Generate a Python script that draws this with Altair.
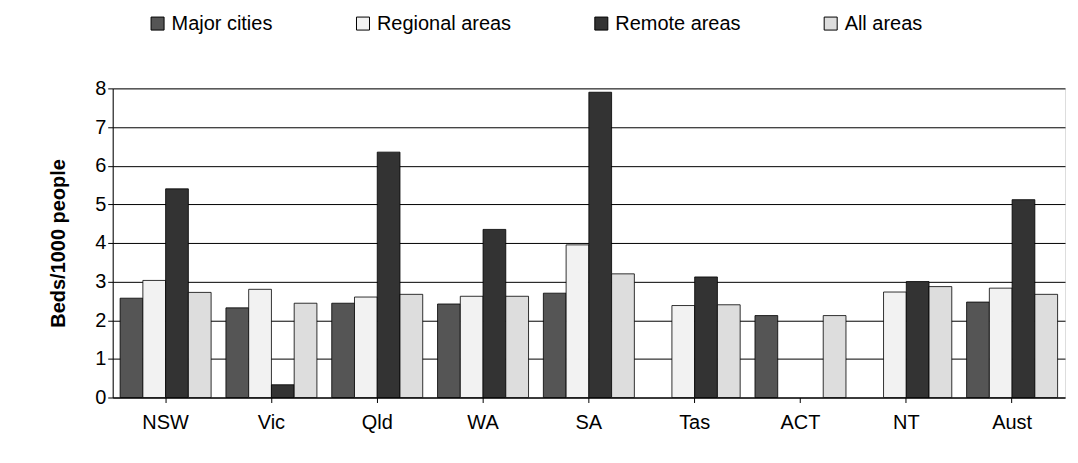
import altair as alt
import pandas as pd

STATES = ["NSW", "Vic", "Qld", "WA", "SA", "Tas", "ACT", "NT", "Aust"]
SERIES = ["Major cities", "Regional areas", "Remote areas", "All areas"]
MAJOR = [2.57, 2.32, 2.44, 2.42, 2.70, None, 2.12, None, 2.47]
REGIONAL = [3.03, 2.80, 2.60, 2.62, 3.95, 2.38, None, 2.73, 2.83]
REMOTE = [5.40, 0.33, 6.35, 4.35, 7.90, 3.12, None, 3.00, 5.12]
ALL = [2.72, 2.44, 2.67, 2.62, 3.20, 2.40, 2.12, 2.87, 2.67]

rows = []
for name, vals in zip(SERIES, [MAJOR, REGIONAL, REMOTE, ALL]):
    for s, v in zip(STATES, vals):
        if v is not None:
            rows.append({"state": s, "series": name, "value": v})
DATA = pd.DataFrame(rows)

chart = alt.Chart(DATA).mark_bar(stroke="black", strokeWidth=0.8).encode(
    x=alt.X("state:N", sort=STATES, title=None,
            scale=alt.Scale(paddingInner=0.14, paddingOuter=0.07),
            axis=alt.Axis(labelAngle=0, labelFontSize=20, labelPadding=10,
                          tickSize=5, labelColor="black", domainColor="black", tickColor="black")),
    xOffset=alt.XOffset("series:N", sort=SERIES),
    y=alt.Y("value:Q", title="Beds/1000 people",
            scale=alt.Scale(domain=[0, 8]),
            axis=alt.Axis(tickCount=8, labelFontSize=20, titleFontSize=20, titleFontWeight="bold",
                          titlePadding=26, gridColor="black", gridOpacity=1, labelColor="black",
                          domainColor="black", tickColor="black", titleColor="black")),
    fill=alt.Fill("series:N", sort=SERIES, title=None,
                  scale=alt.Scale(domain=SERIES, range=["#555555", "#f2f2f2", "#333333", "#dddddd"]),
                  legend=alt.Legend(orient="none", legendX=35, legendY=-75, direction="horizontal",
                                    symbolType="square", symbolSize=170, symbolStrokeColor="black",
                                    symbolStrokeWidth=1, labelFontSize=20, labelColor="black",
                                    columnPadding=80, labelLimit=250)),
).properties(width=955, height=310, padding={"left": 40, "top": 5, "right": 5, "bottom": 5}
).configure_view(stroke=None).configure(font="Liberation Sans")

chart.save("out.html", embed_options={"renderer": "svg", "actions": False})
